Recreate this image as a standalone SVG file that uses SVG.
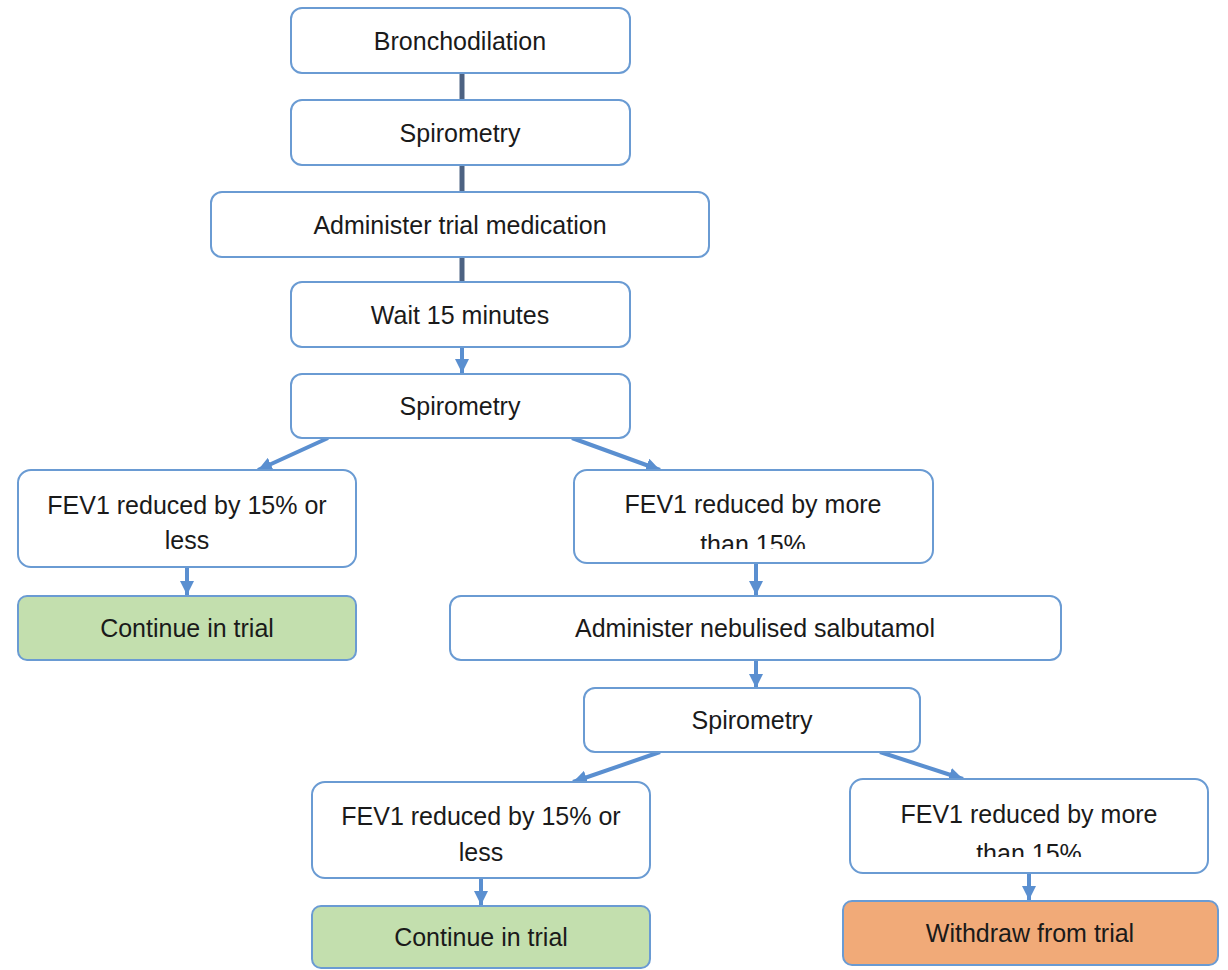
<svg xmlns="http://www.w3.org/2000/svg" width="1228" height="970" viewBox="0 0 1228 970">
<style>
.box{fill:#ffffff;stroke:#6a9bd3;stroke-width:2}
.green{fill:#c3dfae;stroke:#6a9bd3;stroke-width:2}
.orange{fill:#f1aa78;stroke:#6a9bd3;stroke-width:2}
.t{font-family:"Liberation Sans",Arial,sans-serif;font-size:25px;fill:#1a1a1a;text-anchor:middle}
.plain{stroke:#4d6282;stroke-width:5;fill:none}
.arr{stroke:#5a8fd0;stroke-width:4;fill:none;marker-end:url(#ah)}
</style>
<defs>
<marker id="ah" markerUnits="userSpaceOnUse" markerWidth="16" markerHeight="14" refX="14" refY="7" orient="auto">
<path d="M0,0 L14,7 L0,14 Z" fill="#5a8fd0"/>
</marker>
<clipPath id="c8"><rect x="574" y="470" width="360" height="79"/></clipPath>
<clipPath id="c13"><rect x="850" y="779" width="360" height="78"/></clipPath>
</defs>
<rect width="1228" height="970" fill="#ffffff"/>
<g id="connectors">
<line class="plain" x1="462" y1="73" x2="462" y2="100"/>
<line class="plain" x1="462" y1="165" x2="462" y2="192"/>
<line class="plain" x1="462" y1="257" x2="462" y2="282"/>
<line class="arr" x1="462" y1="347" x2="462" y2="373"/>
<line class="arr" x1="328" y1="438" x2="258" y2="470"/>
<line class="arr" x1="572" y1="438" x2="660" y2="470"/>
<line class="arr" x1="187" y1="567" x2="187" y2="595"/>
<line class="arr" x1="756" y1="563" x2="756" y2="595"/>
<line class="arr" x1="756" y1="660" x2="756" y2="688"/>
<line class="arr" x1="660" y1="752" x2="573" y2="782"/>
<line class="arr" x1="880" y1="752" x2="963" y2="779"/>
<line class="arr" x1="481" y1="878" x2="481" y2="905"/>
<line class="arr" x1="1029" y1="873" x2="1029" y2="900"/>
</g>
<g id="n1"><rect class="box" x="291" y="8" width="339" height="65" rx="11"/><text class="t" x="460" y="50">Bronchodilation</text></g>
<g id="n2"><rect class="box" x="291" y="100" width="339" height="65" rx="11"/><text class="t" x="460" y="142">Spirometry</text></g>
<g id="n3"><rect class="box" x="211" y="192" width="498" height="65" rx="11"/><text class="t" x="460" y="234">Administer trial medication</text></g>
<g id="n4"><rect class="box" x="291" y="282" width="339" height="65" rx="11"/><text class="t" x="460" y="324">Wait 15 minutes</text></g>
<g id="n5"><rect class="box" x="291" y="374" width="339" height="64" rx="11"/><text class="t" x="460" y="415">Spirometry</text></g>
<g id="n6"><rect class="box" x="18" y="470" width="338" height="97" rx="13"/><text class="t" x="187" y="514">FEV1 reduced by 15% or</text><text class="t" x="187" y="549">less</text></g>
<g id="n7"><rect class="green" x="18" y="596" width="338" height="64" rx="9"/><text class="t" x="187" y="637">Continue in trial</text></g>
<g id="n8"><rect class="box" x="574" y="470" width="359" height="93" rx="13"/><g clip-path="url(#c8)"><text class="t" x="753" y="513">FEV1 reduced by more</text><text class="t" x="753" y="553">than 15%</text></g></g>
<g id="n9"><rect class="box" x="450" y="596" width="611" height="64" rx="11"/><text class="t" x="755" y="637">Administer nebulised salbutamol</text></g>
<g id="n10"><rect class="box" x="584" y="688" width="336" height="64" rx="11"/><text class="t" x="752" y="729">Spirometry</text></g>
<g id="n11"><rect class="box" x="312" y="782" width="338" height="96" rx="13"/><text class="t" x="481" y="825">FEV1 reduced by 15% or</text><text class="t" x="481" y="861">less</text></g>
<g id="n12"><rect class="green" x="312" y="906" width="338" height="62" rx="9"/><text class="t" x="481" y="946">Continue in trial</text></g>
<g id="n13"><rect class="box" x="850" y="779" width="358" height="94" rx="13"/><g clip-path="url(#c13)"><text class="t" x="1029" y="823">FEV1 reduced by more</text><text class="t" x="1029" y="862">than 15%</text></g></g>
<g id="n14"><rect class="orange" x="843" y="901" width="375" height="64" rx="9"/><text class="t" x="1030" y="942">Withdraw from trial</text></g>
</svg>
